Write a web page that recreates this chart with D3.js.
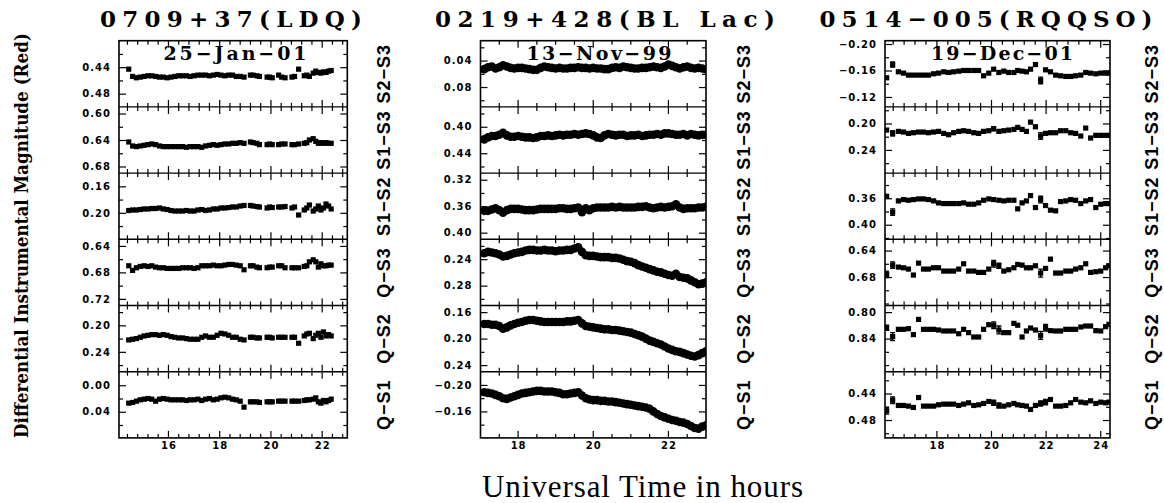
<!DOCTYPE html>
<html>
<head>
<meta charset="utf-8">
<script src="https://cdn.jsdelivr.net/npm/d3@7"></script>
<style>
  body { margin: 0; background: #fff; }
</style>
</head>
<body>
<div id="chart"></div>
<script>
// row names, top to bottom, same in every panel
const rowLabels = ["S2−S3", "S1−S3", "S1−S2", "Q−S3", "Q−S2", "Q−S1"];

/* * * * * * 0709+37 (LDQ), 25 Jan 01 * * * * * */
const ldqTime = [14.45, 14.6, 14.75, 14.9, 15.05, 15.2, 15.35, 15.5, 15.65, 15.8, 15.95, 16.1, 16.25, 16.4, 16.55, 16.7, 16.85, 17.0, 17.15, 17.3,
    17.45, 17.6, 17.75, 17.9, 18.05, 18.2, 18.35, 18.5, 18.65, 18.8, 18.95, 19.2, 19.3, 19.45, 19.55, 19.85, 19.95, 20.05, 20.3, 20.42,
    20.55, 20.82, 20.92, 21.08, 21.3, 21.4, 21.5, 21.65, 21.75, 21.85, 21.95, 22.05, 22.15, 22.25, 22.35];
const ldqS2S3 = [0.443, 0.454, 0.456, 0.455, 0.454, 0.453, 0.453, 0.454, 0.455, 0.455, 0.456, 0.455, 0.454, 0.453, 0.453, 0.453, 0.454, 0.453, 0.452, 0.452,
    0.452, 0.453, 0.452, 0.451, 0.452, 0.453, 0.452, 0.452, 0.454, 0.454, 0.455, 0.452, 0.452, 0.453, 0.454, 0.455, 0.455, 0.456, 0.452, 0.455,
    0.456, 0.455, 0.454, 0.443, 0.453, 0.452, 0.454, 0.449, 0.446, 0.448, 0.449, 0.447, 0.448, 0.446, 0.445];
const ldqS1S3 = [0.643, 0.649, 0.650, 0.649, 0.648, 0.647, 0.646, 0.647, 0.649, 0.650, 0.650, 0.650, 0.650, 0.650, 0.650, 0.651, 0.650, 0.650, 0.650, 0.651,
    0.649, 0.648, 0.647, 0.648, 0.647, 0.646, 0.646, 0.645, 0.645, 0.644, 0.645, 0.643, 0.644, 0.645, 0.647, 0.647, 0.646, 0.647, 0.647, 0.646,
    0.646, 0.647, 0.647, 0.646, 0.645, 0.644, 0.640, 0.638, 0.642, 0.645, 0.644, 0.645, 0.644, 0.645, 0.645];
const ldqS1S2 = [0.1965, 0.1957, 0.1957, 0.1950, 0.1942, 0.1942, 0.1935, 0.1935, 0.1927, 0.1942, 0.1950, 0.1965, 0.1973, 0.1973, 0.1973, 0.1965, 0.1973, 0.1973, 0.1957, 0.1950,
    0.1965, 0.1957, 0.1942, 0.1942, 0.1927, 0.1927, 0.1920, 0.1912, 0.1912, 0.1897, 0.1889, 0.1889, 0.1897, 0.1905, 0.1912, 0.1927, 0.1912, 0.1920, 0.1912, 0.1912,
    0.1905, 0.1927, 0.1912, 0.2033, 0.1957, 0.1927, 0.1882, 0.1973, 0.1942, 0.1897, 0.1957, 0.1927, 0.1867, 0.1897, 0.1942];
const ldqQS3 = [0.670, 0.677, 0.673, 0.671, 0.670, 0.671, 0.670, 0.672, 0.673, 0.673, 0.674, 0.674, 0.674, 0.674, 0.673, 0.673, 0.673, 0.674, 0.673, 0.670,
    0.670, 0.670, 0.669, 0.670, 0.670, 0.669, 0.668, 0.668, 0.669, 0.670, 0.676, 0.670, 0.670, 0.672, 0.673, 0.673, 0.672, 0.672, 0.670, 0.670,
    0.673, 0.673, 0.673, 0.673, 0.671, 0.670, 0.664, 0.661, 0.664, 0.672, 0.667, 0.670, 0.670, 0.669, 0.669];
const ldqQS2 = [0.222, 0.221, 0.220, 0.218, 0.216, 0.215, 0.214, 0.214, 0.215, 0.214, 0.215, 0.217, 0.218, 0.219, 0.219, 0.220, 0.221, 0.221, 0.221, 0.218,
    0.216, 0.218, 0.218, 0.215, 0.212, 0.213, 0.215, 0.218, 0.218, 0.221, 0.222, 0.218, 0.218, 0.219, 0.219, 0.218, 0.218, 0.219, 0.218, 0.218,
    0.218, 0.218, 0.218, 0.227, 0.216, 0.213, 0.212, 0.220, 0.215, 0.212, 0.218, 0.210, 0.216, 0.214, 0.216];
const ldqQS1 = [0.027, 0.026, 0.024, 0.022, 0.021, 0.020, 0.021, 0.024, 0.021, 0.020, 0.021, 0.022, 0.022, 0.022, 0.022, 0.023, 0.022, 0.022, 0.021, 0.023,
    0.021, 0.020, 0.022, 0.021, 0.019, 0.018, 0.019, 0.021, 0.022, 0.024, 0.033, 0.025, 0.025, 0.025, 0.026, 0.025, 0.025, 0.025, 0.024, 0.024,
    0.024, 0.024, 0.024, 0.024, 0.023, 0.022, 0.022, 0.021, 0.019, 0.025, 0.027, 0.023, 0.025, 0.023, 0.021];
const ldqDomains = [[0.40, 0.50], [0.59, 0.69], [0.14, 0.24], [0.63, 0.73], [0.17, 0.27], [-0.0205, 0.0795]];
const ldqYTicks = [[0.44, 0.48], [0.60, 0.64, 0.68], [0.16, 0.20], [0.64, 0.68, 0.72], [0.20, 0.24], [0.00, 0.04]];
const ldqXTicks = [16, 18, 20, 22];

/* * * * * * 0219+428 (BL Lac), 13 Nov 99 * * * * * */
const blTime = [17.1, 17.2, 17.3, 17.4, 17.5, 17.6, 17.7, 17.8, 17.9, 18.0, 18.1, 18.2, 18.3, 18.4, 18.5, 18.6, 18.7, 18.8, 18.9, 19.0,
    19.1, 19.2, 19.3, 19.4, 19.5, 19.6, 19.7, 19.8, 19.9, 20.0, 20.1, 20.2, 20.3, 20.4, 20.5, 20.6, 20.7, 20.8, 20.9, 21.0,
    21.1, 21.2, 21.3, 21.4, 21.5, 21.6, 21.7, 21.8, 21.9, 22.0, 22.1, 22.2, 22.3, 22.4, 22.5, 22.6, 22.7, 22.8, 22.9, 23.0];
const blS2S3 = [0.053, 0.050, 0.049, 0.052, 0.050, 0.047, 0.049, 0.051, 0.052, 0.051, 0.051, 0.052, 0.053, 0.054, 0.054, 0.051, 0.049, 0.050, 0.051, 0.052,
    0.051, 0.052, 0.052, 0.051, 0.051, 0.050, 0.051, 0.051, 0.052, 0.051, 0.052, 0.052, 0.053, 0.053, 0.051, 0.050, 0.051, 0.049, 0.050, 0.051,
    0.052, 0.052, 0.051, 0.051, 0.050, 0.049, 0.050, 0.051, 0.049, 0.046, 0.048, 0.050, 0.052, 0.050, 0.049, 0.051, 0.052, 0.051, 0.052, 0.053];
const blS1S3 = [0.419, 0.416, 0.414, 0.414, 0.412, 0.409, 0.413, 0.415, 0.415, 0.414, 0.415, 0.416, 0.416, 0.417, 0.416, 0.414, 0.414, 0.413, 0.414, 0.413,
    0.412, 0.413, 0.412, 0.412, 0.411, 0.412, 0.411, 0.410, 0.411, 0.413, 0.416, 0.417, 0.413, 0.411, 0.412, 0.413, 0.412, 0.412, 0.414, 0.413,
    0.413, 0.412, 0.414, 0.413, 0.412, 0.412, 0.411, 0.412, 0.410, 0.410, 0.411, 0.412, 0.412, 0.411, 0.413, 0.411, 0.412, 0.413, 0.412, 0.412];
const blS1S2 = [0.367, 0.367, 0.365, 0.363, 0.366, 0.370, 0.366, 0.364, 0.364, 0.364, 0.365, 0.366, 0.366, 0.366, 0.365, 0.364, 0.364, 0.364, 0.364, 0.364,
    0.363, 0.363, 0.364, 0.364, 0.363, 0.362, 0.369, 0.363, 0.366, 0.363, 0.362, 0.362, 0.362, 0.362, 0.361, 0.362, 0.361, 0.362, 0.362, 0.362,
    0.362, 0.361, 0.361, 0.360, 0.362, 0.363, 0.362, 0.361, 0.362, 0.361, 0.360, 0.357, 0.362, 0.364, 0.363, 0.363, 0.363, 0.362, 0.362, 0.361];
const blQS3 = [0.231, 0.229, 0.230, 0.231, 0.233, 0.236, 0.235, 0.233, 0.231, 0.230, 0.229, 0.227, 0.226, 0.226, 0.227, 0.227, 0.226, 0.227, 0.227, 0.228,
    0.227, 0.227, 0.226, 0.226, 0.224, 0.222, 0.229, 0.234, 0.235, 0.235, 0.236, 0.237, 0.237, 0.237, 0.238, 0.238, 0.239, 0.241, 0.243, 0.244,
    0.246, 0.249, 0.251, 0.253, 0.255, 0.257, 0.259, 0.260, 0.262, 0.264, 0.265, 0.262, 0.267, 0.268, 0.269, 0.272, 0.275, 0.278, 0.277, 0.275];
const blQS2 = [0.178, 0.178, 0.179, 0.179, 0.181, 0.185, 0.183, 0.180, 0.178, 0.176, 0.175, 0.173, 0.172, 0.172, 0.173, 0.174, 0.175, 0.175, 0.175, 0.175,
    0.175, 0.175, 0.174, 0.174, 0.173, 0.172, 0.177, 0.181, 0.182, 0.183, 0.184, 0.185, 0.186, 0.186, 0.187, 0.187, 0.188, 0.189, 0.190, 0.191,
    0.193, 0.195, 0.197, 0.200, 0.203, 0.205, 0.207, 0.209, 0.212, 0.215, 0.217, 0.219, 0.220, 0.222, 0.224, 0.226, 0.227, 0.225, 0.222, 0.219];
const blQS1 = [-0.189, -0.188, -0.187, -0.185, -0.183, -0.180, -0.179, -0.181, -0.183, -0.185, -0.187, -0.188, -0.189, -0.190, -0.191, -0.191, -0.190, -0.190, -0.190, -0.189,
    -0.188, -0.186, -0.186, -0.187, -0.188, -0.189, -0.184, -0.180, -0.178, -0.177, -0.177, -0.176, -0.176, -0.175, -0.175, -0.174, -0.173, -0.172, -0.171, -0.170,
    -0.169, -0.168, -0.167, -0.166, -0.164, -0.160, -0.156, -0.153, -0.151, -0.149, -0.147, -0.146, -0.144, -0.143, -0.141, -0.138, -0.135, -0.134, -0.137, -0.139];
const blDomains = [[0.01, 0.11], [0.37, 0.47], [0.31, 0.41], [0.21, 0.31], [0.15, 0.25], [-0.22, -0.12]];
const blYTicks = [[0.04, 0.08], [0.40, 0.44], [0.32, 0.36, 0.40], [0.24, 0.28], [0.16, 0.20, 0.24], [-0.20, -0.16]];
const blXTicks = [18, 20, 22];

/* * * * * * 0514-005 (RQQSO), 19 Dec 01 * * * * * */
const rqTime = [16.16, 16.38, 16.59, 16.78, 16.96, 17.14, 17.33, 17.51, 17.69, 17.88, 18.06, 18.25, 18.43, 18.61, 18.80, 18.98, 19.16, 19.35, 19.53, 19.71,
    19.90, 20.08, 20.27, 20.45, 20.63, 20.82, 20.96, 21.12, 21.28, 21.43, 21.61, 21.80, 21.98, 22.16, 22.35, 22.53, 22.72, 22.90, 23.08, 23.27,
    23.45, 23.63, 23.82, 24.00, 24.18, 24.30];
const rqS2S3 = [-0.149, -0.169, -0.158, -0.156, -0.153, -0.153, -0.153, -0.153, -0.153, -0.155, -0.156, -0.158, -0.157, -0.158, -0.159, -0.160, -0.160, -0.160, -0.160, -0.152,
    -0.156, -0.162, -0.157, -0.159, -0.157, -0.157, -0.160, -0.159, -0.158, -0.162, -0.169, -0.145, -0.161, -0.158, -0.153, -0.152, -0.151, -0.151, -0.152, -0.153,
    -0.157, -0.156, -0.155, -0.156, -0.156, -0.156];
const rqS1S3 = [0.210, 0.215, 0.212, 0.213, 0.215, 0.214, 0.213, 0.213, 0.214, 0.213, 0.212, 0.215, 0.217, 0.214, 0.212, 0.211, 0.212, 0.214, 0.215, 0.212,
    0.211, 0.208, 0.212, 0.211, 0.210, 0.209, 0.206, 0.209, 0.212, 0.198, 0.205, 0.219, 0.215, 0.214, 0.214, 0.211, 0.211, 0.214, 0.215, 0.219,
    0.207, 0.222, 0.218, 0.218, 0.218, 0.218];
const rqS1S2 = [0.357, 0.381, 0.364, 0.362, 0.363, 0.362, 0.361, 0.361, 0.362, 0.364, 0.367, 0.368, 0.368, 0.368, 0.368, 0.367, 0.369, 0.369, 0.367, 0.363,
    0.361, 0.362, 0.363, 0.364, 0.363, 0.363, 0.376, 0.367, 0.364, 0.356, 0.374, 0.362, 0.371, 0.378, 0.379, 0.365, 0.364, 0.362, 0.363, 0.368,
    0.364, 0.362, 0.374, 0.369, 0.368, 0.368];
const rqQS3 = [0.676, 0.662, 0.665, 0.666, 0.668, 0.677, 0.659, 0.668, 0.668, 0.666, 0.666, 0.671, 0.671, 0.671, 0.668, 0.660, 0.671, 0.671, 0.673, 0.673,
    0.668, 0.660, 0.663, 0.671, 0.669, 0.666, 0.661, 0.662, 0.666, 0.666, 0.663, 0.674, 0.667, 0.653, 0.674, 0.674, 0.671, 0.671, 0.668, 0.666,
    0.660, 0.673, 0.672, 0.671, 0.666, 0.663];
const rqQS2 = [0.8235, 0.837, 0.826, 0.826, 0.825, 0.834, 0.811, 0.826, 0.826, 0.826, 0.827, 0.8285, 0.8285, 0.8285, 0.8326, 0.826, 0.831, 0.8376, 0.8376, 0.826,
    0.819, 0.8198, 0.827, 0.831, 0.831, 0.817, 0.8198, 0.8376, 0.8285, 0.824, 0.827, 0.835, 0.8235, 0.828, 0.8285, 0.8285, 0.826, 0.826, 0.826, 0.8225,
    0.821, 0.821, 0.828, 0.8285, 0.822, 0.8185];
const rqQS1 = [0.466, 0.450, 0.458, 0.458, 0.459, 0.461, 0.446, 0.459, 0.459, 0.459, 0.457, 0.456, 0.456, 0.456, 0.458, 0.456, 0.454, 0.458, 0.457, 0.455,
    0.452, 0.454, 0.458, 0.459, 0.457, 0.455, 0.457, 0.458, 0.459, 0.464, 0.458, 0.455, 0.453, 0.449, 0.459, 0.459, 0.458, 0.454, 0.449, 0.453,
    0.454, 0.451, 0.455, 0.453, 0.454, 0.453];
// [row, point index, error]
const rqErrors = [[0, 1, 0.004], [0, 31, 0.005], [1, 1, 0.004], [1, 21, 0.003], [1, 31, 0.005], [2, 1, 0.005], [2, 31, 0.005],
    [3, 0, 0.005], [3, 1, 0.005], [3, 21, 0.005], [3, 22, 0.004], [3, 31, 0.006],
    [4, 0, 0.004], [4, 1, 0.006], [4, 21, 0.005], [4, 22, 0.006], [4, 31, 0.006], [4, 32, 0.005],
    [5, 0, 0.005], [5, 1, 0.005], [5, 21, 0.004], [5, 22, 0.004], [5, 31, 0.004], [5, 32, 0.004]];
const rqDomains = [[-0.205, -0.105], [0.175, 0.275], [0.322, 0.422], [0.623, 0.723], [0.790, 0.890], [0.407, 0.507]];
const rqYTicks = [[-0.20, -0.16, -0.12], [0.20, 0.24], [0.36, 0.40], [0.64, 0.68], [0.80, 0.84], [0.44, 0.48]];
const rqXTicks = [18, 20, 22, 24];


const panels = [
    {title: "0709+37(LDQ)", date: "25−Jan−01", time: ldqTime,
     series: [ldqS2S3, ldqS1S3, ldqS1S2, ldqQS3, ldqQS2, ldqQS1],
     domains: ldqDomains, yTicks: ldqYTicks, xDomain: [14.07, 22.98], xTicks: ldqXTicks, xMinor: 0.4,
     mark: "square", errors: []},
    {title: "0219+428(BL Lac)", date: "13−Nov−99", time: blTime,
     series: [blS2S3, blS1S3, blS1S2, blQS3, blQS2, blQS1],
     domains: blDomains, yTicks: blYTicks, xDomain: [17.0, 23.0], xTicks: blXTicks, xMinor: 0.5,
     mark: "circle", errors: []},
    {title: "0514−005(RQQSO)", date: "19−Dec−01", time: rqTime,
     series: [rqS2S3, rqS1S3, rqS1S2, rqQS3, rqQS2, rqQS1],
     domains: rqDomains, yTicks: rqYTicks, xDomain: [16.1, 24.34], xTicks: rqXTicks, xMinor: 0.4,
     mark: "square", errors: rqErrors}
];

// layout
const plotTop = 40.7, rowH = 66.2;
const frames = [[119, 347.3], [480.5, 706], [885, 1110]];
const titleX = [231, 605, 986], titleLen = [262, 340, 333];
const dateX = [235, 599, 1002], dateLen = [143, 145, 142];
const rowLabelX = [390, 750, 1158];

const svg = d3.select("#chart").append("svg")
    .attr("width", 1164)
    .attr("height", 503)
    .style("background", "#fff");

const fmtY = d3.format(".2f");
const boldSans = "'DejaVu Sans', sans-serif";

function styleAxis(a) {
    a.select(".domain").remove();
    a.attr("font-family", boldSans).attr("font-size", 10).attr("font-weight", "bold");
    a.selectAll("line").attr("stroke-width", 1.2);
    a.selectAll("text").attr("letter-spacing", "1px");
}

panels.forEach((p, pi) => {
    const [left, right] = frames[pi];
    const bottom = plotTop + rowH * 6;
    const g = svg.append("g");

    const x = d3.scaleLinear().domain(p.xDomain).range([left, right]);

    // minor + major x tick positions
    const xTickVals = d3.range(Math.ceil(p.xDomain[0] / p.xMinor - 1e-6), Math.floor(p.xDomain[1] / p.xMinor + 1e-6) + 1)
        .map(k => k * p.xMinor)
        .filter(v => v > p.xDomain[0] + 0.05 && v < p.xDomain[1] - 0.05);
    const isMajorX = v => p.xTicks.some(t => Math.abs(t - v) < 1e-6);

    p.series.forEach((vals, r) => {
        const y0 = plotTop + r * rowH;
        const [d0, d1] = p.domains[r];
        const y = d3.scaleLinear().domain([d0, d1]).range([y0, y0 + rowH]);

        const majors = p.yTicks[r];
        const minors = d3.range(Math.ceil(d0 / 0.02 - 1e-6), Math.floor(d1 / 0.02 + 1e-6) + 1)
            .map(k => k * 0.02)
            .filter(v => v > d0 + 0.001 && v < d1 - 0.001 && !majors.some(m => Math.abs(m - v) < 1e-6));

        // left axis, inward ticks
        g.append("g").attr("transform", `translate(${left},0)`)
            .call(d3.axisLeft(y).tickValues(majors).tickSize(-7).tickPadding(8).tickFormat(fmtY))
            .call(styleAxis);
        g.append("g").attr("transform", `translate(${left},0)`)
            .call(d3.axisLeft(y).tickValues(minors).tickSize(-4).tickFormat(""))
            .call(styleAxis);
        // right axis
        g.append("g").attr("transform", `translate(${right},0)`)
            .call(d3.axisRight(y).tickValues(majors).tickSize(-7).tickFormat(""))
            .call(styleAxis);
        g.append("g").attr("transform", `translate(${right},0)`)
            .call(d3.axisRight(y).tickValues(minors).tickSize(-4).tickFormat(""))
            .call(styleAxis);

        // clip to this sub panel
        const clipId = `clip-${pi}-${r}`;
        svg.append("clipPath").attr("id", clipId)
            .append("rect")
            .attr("x", left).attr("y", y0)
            .attr("width", right - left).attr("height", rowH);

        const pts = g.append("g").attr("clip-path", `url(#${clipId})`);
        const data = p.time.map((t, i) => ({t: t, v: vals[i]}));

        if (p.mark === "circle") {
            pts.selectAll("circle").data(data).join("circle")
                .attr("cx", d => x(d.t))
                .attr("cy", d => y(d.v))
                .attr("r", 4.3)
                .attr("fill", "#000");
        } else {
            pts.selectAll("rect").data(data).join("rect")
                .attr("x", d => x(d.t) - 2.6)
                .attr("y", d => y(d.v) - 2.6)
                .attr("width", 5.2)
                .attr("height", 5.2)
                .attr("fill", "#000");
        }

        // error bars
        const errs = p.errors.filter(e => e[0] === r);
        errs.forEach(e => {
            const cx = x(p.time[e[1]]);
            const v = vals[e[1]];
            pts.append("line")
                .attr("x1", cx).attr("x2", cx)
                .attr("y1", y(v - e[2])).attr("y2", y(v + e[2]))
                .attr("stroke", "#000").attr("stroke-width", 1.3);
            [v - e[2], v + e[2]].forEach(c => {
                pts.append("line")
                    .attr("x1", cx - 2.5).attr("x2", cx + 2.5)
                    .attr("y1", y(c)).attr("y2", y(c))
                    .attr("stroke", "#000").attr("stroke-width", 1.3);
            });
        });

        // row name on the right
        svg.append("text")
            .attr("transform", `translate(${rowLabelX[pi]},${y0 + rowH / 2}) rotate(-90)`)
            .attr("text-anchor", "middle")
            .attr("font-family", "'Liberation Sans', Arial, sans-serif")
            .attr("font-weight", "bold")
            .attr("font-size", 18)
            .attr("letter-spacing", "1px")
            .text(rowLabels[r]);
    });

    // x ticks on every horizontal edge (both sides on dividers)
    d3.range(7).forEach(k => {
        const ye = plotTop + k * rowH;
        g.append("g").selectAll("line").data(xTickVals).join("line")
            .attr("x1", d => x(d)).attr("x2", d => x(d))
            .attr("y1", d => ye - (k > 0 ? (isMajorX(d) ? 7 : 4) : 0))
            .attr("y2", d => ye + (k < 6 ? (isMajorX(d) ? 7 : 4) : 0))
            .attr("stroke", "#000").attr("stroke-width", 1.2);
    });

    // frame and dividers
    g.append("rect")
        .attr("x", left).attr("y", plotTop)
        .attr("width", right - left).attr("height", bottom - plotTop)
        .attr("fill", "none").attr("stroke", "#000").attr("stroke-width", 1.6);
    g.append("g").selectAll("line").data(d3.range(1, 6)).join("line")
        .attr("x1", left).attr("x2", right)
        .attr("y1", k => plotTop + k * rowH).attr("y2", k => plotTop + k * rowH)
        .attr("stroke", "#000").attr("stroke-width", 1.4);

    // hour labels
    g.append("g").attr("transform", `translate(0,${bottom})`)
        .call(d3.axisBottom(x).tickValues(p.xTicks).tickSize(0).tickPadding(4).tickFormat(d3.format("d")))
        .call(styleAxis);

    // source name and date
    svg.append("text")
        .attr("x", titleX[pi]).attr("y", 27)
        .attr("text-anchor", "middle")
        .attr("font-family", "'DejaVu Serif', serif")
        .attr("font-weight", "bold")
        .attr("font-size", 23)
        .attr("textLength", titleLen[pi])
        .attr("lengthAdjust", "spacing")
        .text(p.title);

    svg.append("text")
        .attr("x", dateX[pi]).attr("y", 59.5)
        .attr("text-anchor", "middle")
        .attr("font-family", "'DejaVu Serif', serif")
        .attr("font-weight", "bold")
        .attr("font-size", 19)
        .attr("textLength", dateLen[pi])
        .attr("lengthAdjust", "spacing")
        .text(p.date);
});

// y title
svg.append("text")
    .attr("transform", "translate(28,235.5) rotate(-90)")
    .attr("text-anchor", "middle")
    .attr("font-family", "'DejaVu Serif', serif")
    .attr("font-weight", "bold")
    .attr("font-size", 18)
    .attr("textLength", 405)
    .attr("lengthAdjust", "spacingAndGlyphs")
    .text("Differential Instrumental Magnitude (Red)");

// x title
svg.append("text")
    .attr("x", 482).attr("y", 496.5)
    .attr("font-family", "'Liberation Serif', 'Times New Roman', serif")
    .attr("font-size", 31)
    .attr("textLength", 321)
    .attr("lengthAdjust", "spacing")
    .text("Universal Time in hours");
</script>
</body>
</html>
